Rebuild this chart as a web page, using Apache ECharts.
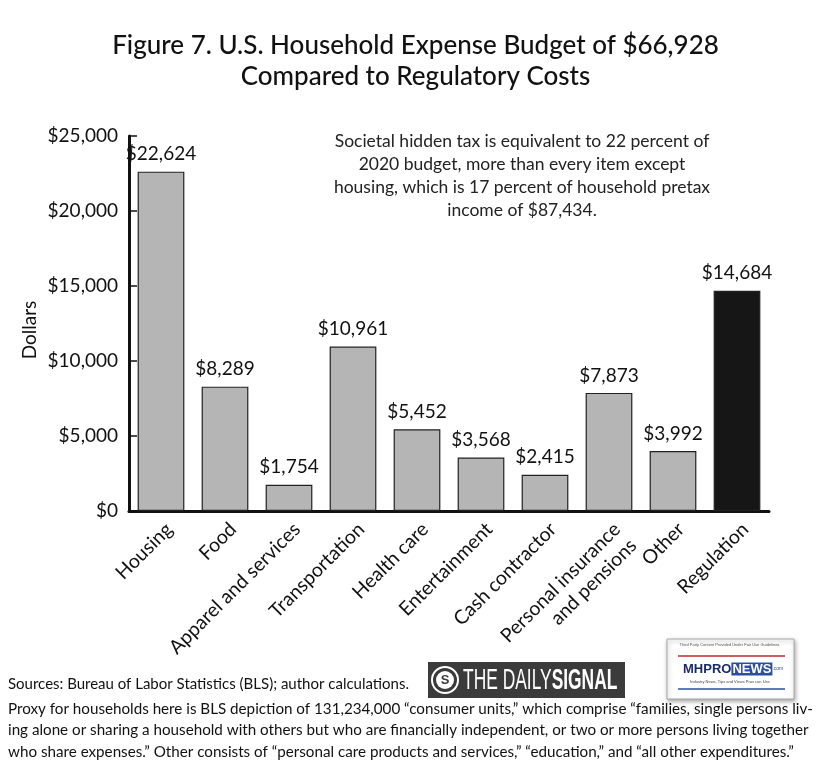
<!DOCTYPE html>
<html>
<head>
<meta charset="utf-8">
<script src="https://cdn.jsdelivr.net/npm/echarts@6/dist/echarts.min.js"></script>
<style>
html,body{margin:0;padding:0;background:#fff;}
#chart{width:831px;height:768px;}
</style>
</head>
<body>
<div id="chart"></div>
<script>
var categories = ['Housing', 'Food', 'Apparel and services', 'Transportation', 'Health care', 'Entertainment', 'Cash contractor', 'Personal insurance\nand pensions', 'Other', 'Regulation'];
var values = [22624, 8289, 1754, 10961, 5452, 3568, 2415, 7873, 3992, 14684];
var highlightCategory = 'Regulation';
var yTicks = { min: 0, max: 25000, interval: 5000 };

var FONT = 'Lato, "Open Sans", sans-serif';
function money(v){ return '$' + String(v).replace(/\B(?=(\d{3})+(?!\d))/g, ','); }

var chart = echarts.init(document.getElementById('chart'), null, {renderer:'canvas'});
var data = values.map(function(v, i){
  var hl = categories[i] === highlightCategory;
  return { value: v, itemStyle: { color: hl ? '#161616' : '#b5b5b5' } };
});

chart.setOption({
  backgroundColor: '#ffffff',
  animation: false,
  grid: { left: 129, right: 62, top: 136, bottom: 257 },
  xAxis: {
    type: 'category',
    data: categories,
    axisLine: { lineStyle: { color: '#111', width: 3 } },
    axisTick: { inside: true, length: 7, lineStyle: { color: '#111', width: 1.5 } },
    axisLabel: { rotate: 45, fontFamily: FONT, fontSize: 19.5, color: '#111', margin: 7, lineHeight: 23, interval: 0, verticalAlign: 'top' }
  },
  yAxis: {
    type: 'value',
    min: yTicks.min, max: yTicks.max, interval: yTicks.interval,
    splitLine: { show: false },
    axisLine: { show: true, lineStyle: { color: '#111', width: 3 } },
    axisTick: { show: true, inside: true, length: 8, lineStyle: { color: '#111', width: 1.5 } },
    axisLabel: { fontFamily: FONT, fontSize: 19, color: '#111', margin: 11, formatter: function(v){ return money(v); } }
  },
  series: [{
    type: 'bar',
    data: data,
    barWidth: '73%',
    itemStyle: { borderColor: '#222', borderWidth: 1.2 },
    label: { show: true, position: 'top', distance: 8, fontFamily: FONT, fontSize: 19, color: '#111', formatter: function(p){ return money(p.value); } }
  }],
  graphic: [
    { type: 'text', left: 'center', top: 30, style: { text: 'Figure 7. U.S. Household Expense Budget of $66,928\nCompared to Regulatory Costs', font: '500 26px ' + FONT, fill: '#111', textAlign: 'center', lineHeight: 31 } },
    { type: 'text', x: 522, y: 130, style: { text: 'Societal hidden tax is equivalent to 22 percent of\n2020 budget, more than every item except\nhousing, which is 17 percent of household pretax\nincome of $87,434.', font: '17.5px ' + FONT, fill: '#222', textAlign: 'center', lineHeight: 23 } },
    { type: 'text', x: 30, y: 330, rotation: Math.PI/2, style: { text: 'Dollars', font: '19px ' + FONT, fill: '#111', textAlign: 'center', textVerticalAlign: 'middle' } },
    { type: 'text', x: 8, y: 677, style: { text: 'Sources: Bureau of Labor Statistics (BLS); author calculations.', font: '15px ' + FONT, fill: '#111' } },
    { type: 'text', x: 8, y: 698, style: { text: 'Proxy for households here is BLS depiction of 131,234,000 \u201cconsumer units,\u201d which comprise \u201cfamilies, single persons liv-\ning alone or sharing a household with others but who are financially independent, or two or more persons living together\nwho share expenses.\u201d Other consists of \u201cpersonal care products and services,\u201d \u201ceducation,\u201d and \u201call other expenditures.\u201d', font: '15.2px ' + FONT, fill: '#111', lineHeight: 21.5 } },
    // Daily Signal logo
    { type: 'rect', shape: { x: 428, y: 662, width: 197, height: 36 }, style: { fill: '#3b3b3b' } },
    { type: 'circle', shape: { cx: 445, cy: 680, r: 13 }, style: { fill: 'none', stroke: '#fff', lineWidth: 2 } },
    { type: 'circle', shape: { cx: 445, cy: 680, r: 9 }, style: { fill: '#fff' } },
    { type: 'text', x: 445, y: 680, style: { text: 'S', font: 'bold 13px "Liberation Sans"', fill: '#3b3b3b', textAlign: 'center', textVerticalAlign: 'middle' } },
    { type: 'text', x: 463, y: 681, scaleX: 0.6, style: { text: '{a|THE DAILY}{b|SIGNAL}', textVerticalAlign: 'middle', rich: { a: { font: '29px "Liberation Sans", sans-serif', fill: '#fff' }, b: { font: 'bold 29px "Liberation Sans", sans-serif', fill: '#fff' } } } },
    // MHProNews logo
    { type: 'rect', shape: { x: 667, y: 639, width: 127, height: 60 }, style: { fill: '#fff', stroke: '#aaa', lineWidth: 1, shadowBlur: 4, shadowColor: 'rgba(0,0,0,0.35)', shadowOffsetX: 1, shadowOffsetY: 2 } },
    { type: 'text', x: 730, y: 643, style: { text: 'Third Party Content Provided Under Fair Use Guidelines.', font: '4px sans-serif', fill: '#555', textAlign: 'center' } },
    { type: 'line', shape: { x1: 678, y1: 656, x2: 785, y2: 656 }, style: { stroke: '#c0282d', lineWidth: 1.5 } },
    { type: 'text', x: 683, y: 669, style: { text: '{a|MHPRO}{b|NEWS}{c|.com}', textVerticalAlign: 'middle', rich: { a: { font: 'bold 13px "Liberation Sans"', fill: '#1b2a6b' }, b: { font: 'bold 13px "Liberation Sans"', fill: '#fff', backgroundColor: '#2a4fa0', padding: [0, 1] }, c: { font: '5px sans-serif', fill: '#2a4fa0' } } } },
    { type: 'text', x: 730, y: 680, style: { text: 'Industry News, Tips and Views Pros can Use', font: '4px sans-serif', fill: '#444', textAlign: 'center' } },
    { type: 'line', shape: { x1: 678, y1: 689, x2: 785, y2: 689 }, style: { stroke: '#2a4fa0', lineWidth: 1.5 } }
  ]
});
</script>
</body>
</html>
